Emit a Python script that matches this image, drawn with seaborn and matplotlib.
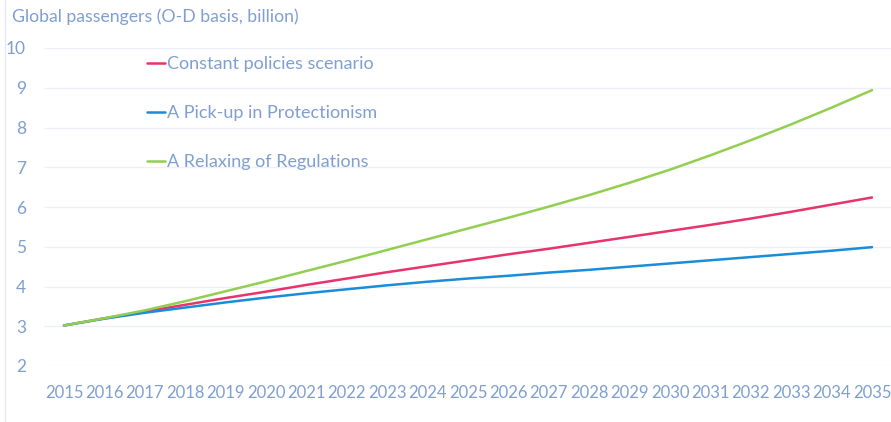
import numpy as np
import pandas as pd
import matplotlib
matplotlib.use("Agg")
import matplotlib.pyplot as plt
import seaborn as sns
from matplotlib.lines import Line2D

# values
years = list(range(2015, 2036))
constant_policies = [3.02, 3.20, 3.37, 3.54, 3.71, 3.87, 4.04, 4.20, 4.36, 4.51, 4.66,
                     4.81, 4.95, 5.10, 5.25, 5.40, 5.55, 5.71, 5.88, 6.06, 6.24]
protectionism = [3.02, 3.19, 3.34, 3.47, 3.60, 3.72, 3.83, 3.93, 4.03, 4.12, 4.20,
                 4.27, 4.35, 4.42, 4.50, 4.58, 4.66, 4.74, 4.82, 4.90, 4.99]
relaxing = [3.02, 3.20, 3.40, 3.63, 3.88, 4.13, 4.39, 4.65, 4.92, 5.19, 5.46,
            5.73, 6.01, 6.30, 6.61, 6.94, 7.30, 7.68, 8.08, 8.50, 8.94]

series_names = ["Constant policies scenario", "A Pick-up in Protectionism", "A Relaxing of Regulations"]
colors = ["#e8336b", "#1b8cd8", "#92cf50"]
txt = "#7f9fd2"

df = pd.DataFrame({"year": years,
                   series_names[0]: constant_policies,
                   series_names[1]: protectionism,
                   series_names[2]: relaxing})
long = df.melt(id_vars="year", var_name="scenario", value_name="passengers")

sns.set_style("white")
plt.rcParams["font.family"] = ["Lato", "DejaVu Sans"]

fig = plt.figure(figsize=(8.91, 4.22), dpi=100)
ax = fig.add_axes([44 / 891, 1 - 366 / 422, 1 - 44 / 891, 318 / 422])

sns.lineplot(data=long, x="year", y="passengers", hue="scenario",
             palette=dict(zip(series_names, colors)), linewidth=1.8, ax=ax)

ax.set_xlim(2014.505, 2035.47)
ax.set_ylim(2, 10)
ax.set_xticks(years)
ax.set_yticks(range(2, 11))
ax.grid(axis="y", color="#edf1f7", linewidth=1)
ax.set_axisbelow(True)
for s in ax.spines.values():
    s.set_visible(False)
ax.tick_params(axis="x", colors=txt, labelsize=12, pad=14, length=0)
ax.tick_params(axis="y", colors=txt, labelsize=12.5, pad=13, length=0)
ax.set_xlabel("")
ax.set_ylabel("")

handles = [Line2D([], [], color=c, linewidth=1.8) for c in colors]
leg = ax.legend(handles, series_names, loc="upper left", bbox_to_anchor=(0.1135, 0.998),
                frameon=False, fontsize=13, handlelength=1.0, handletextpad=0.1,
                labelspacing=1.83, borderaxespad=0)
for t in leg.get_texts():
    t.set_color(txt)

fig.text(12 / 891, 1 - 17 / 422, "Global passengers (O-D basis, billion)",
         color=txt, fontsize=12.7, va="center", ha="left")
fig.add_artist(Line2D([5 / 891, 5 / 891], [0, 1], color="#e3e9f3", linewidth=1))

fig.savefig("out.png", dpi=100)
